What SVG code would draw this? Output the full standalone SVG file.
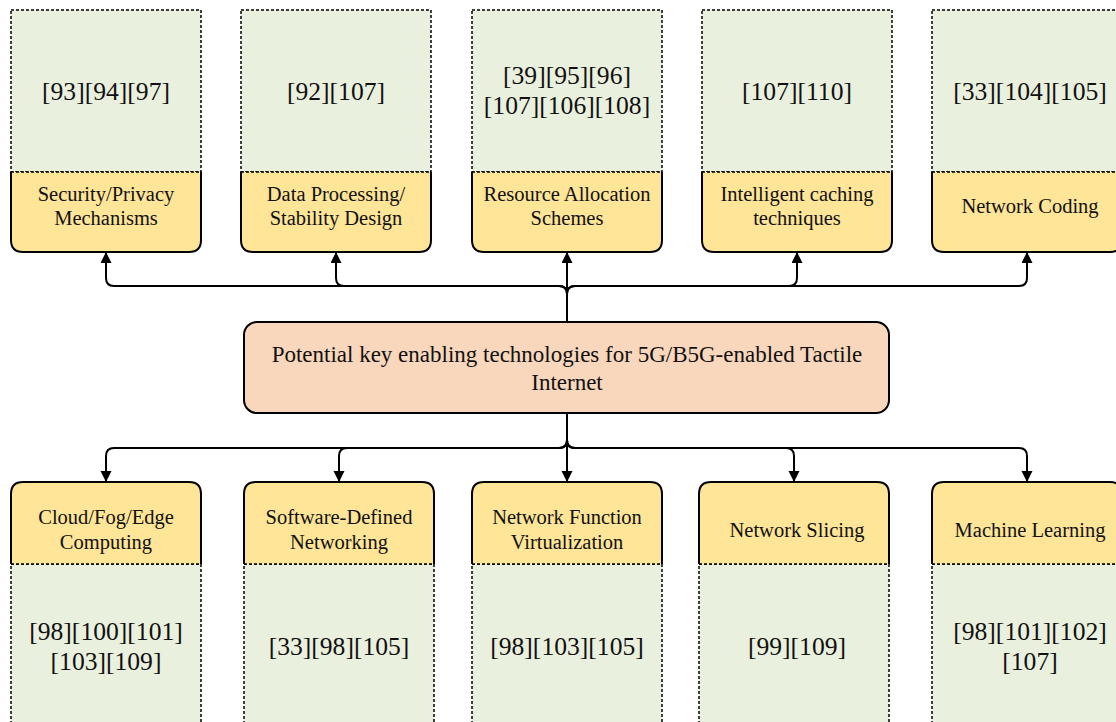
<svg xmlns="http://www.w3.org/2000/svg" width="1116" height="722" viewBox="0 0 1116 722">
  <style>
    .ref { fill: #EAF0DE; stroke: #000; stroke-width: 1.5; stroke-dasharray: 3 2; }
    .div { fill: none; stroke: #000; stroke-width: 1.5; stroke-dasharray: 3 2; }
    .lab { fill: #FFE597; stroke: none; }
    .edge { fill: none; stroke: #000; stroke-width: 2; }
    .hub { fill: #F9D7BC; stroke: #000; stroke-width: 2; }
    .conn { fill: none; stroke: #000; stroke-width: 2; marker-end: url(#arrow); }
    text { font-family: "Liberation Serif", "Times New Roman", serif; fill: #111; text-anchor: middle; }
    .t18 { font-size: 20.5px; }
    .t24 { font-size: 25.6px; }
    .t20 { font-size: 23px; }
  </style>
  <defs>
    <marker id="arrow" markerUnits="userSpaceOnUse" markerWidth="12" markerHeight="12" refX="11" refY="5.5" orient="auto">
      <path d="M0,0 L11,5.5 L0,11 Z" fill="#000"/>
    </marker>
  </defs>

  <rect width="1116" height="722" fill="#fff"/>

  <!-- connectors -->
  <g id="connectors">
    <path class="conn" d="M567 322 V294 Q567 286 559 286 H114 Q106 286 106 278 V252"/>
    <path class="conn" d="M567 322 V294 Q567 286 559 286 H344 Q336 286 336 278 V252"/>
    <path class="conn" d="M567 322 V252"/>
    <path class="conn" d="M567 322 V294 Q567 286 575 286 H789 Q797 286 797 278 V252"/>
    <path class="conn" d="M567 322 V294 Q567 286 575 286 H1019 Q1027 286 1027 278 V252"/>

    <path class="conn" d="M567 413 V440 Q567 448 559 448 H114 Q106 448 106 456 V482"/>
    <path class="conn" d="M567 413 V440 Q567 448 559 448 H347 Q339 448 339 456 V482"/>
    <path class="conn" d="M567 413 V482"/>
    <path class="conn" d="M567 413 V440 Q567 448 575 448 H786 Q794 448 794 456 V482"/>
    <path class="conn" d="M567 413 V440 Q567 448 575 448 H1019 Q1027 448 1027 456 V482"/>
  </g>

  <!-- central hub -->
  <g id="hub">
    <rect class="hub" x="244" y="322" width="645" height="91" rx="13"/>
    <text class="t20" x="567" y="362">Potential key enabling technologies for 5G/B5G-enabled Tactile</text>
    <text class="t20" x="567" y="390">Internet</text>
  </g>

  <!-- top row -->
  <g id="security">
    <rect class="ref" x="11" y="10" width="190" height="162"/>
    <path class="lab" d="M11 172 H201 V240 Q201 252 189 252 H23 Q11 252 11 240 Z"/>
    <path class="edge" d="M201 172 V240 Q201 252 189 252 H23 Q11 252 11 240 V172"/>
    <line class="div" x1="11" y1="172" x2="201" y2="172"/>
    <text class="t24" x="106" y="100">[93][94][97]</text>
    <text class="t18" x="106" y="201">Security/Privacy</text>
    <text class="t18" x="106" y="225">Mechanisms</text>
  </g>

  <g id="data-processing">
    <rect class="ref" x="241" y="10" width="190" height="162"/>
    <path class="lab" d="M241 172 H431 V240 Q431 252 419 252 H253 Q241 252 241 240 Z"/>
    <path class="edge" d="M431 172 V240 Q431 252 419 252 H253 Q241 252 241 240 V172"/>
    <line class="div" x1="241" y1="172" x2="431" y2="172"/>
    <text class="t24" x="336" y="100">[92][107]</text>
    <text class="t18" x="336" y="201">Data Processing/</text>
    <text class="t18" x="336" y="225">Stability Design</text>
  </g>

  <g id="resource-allocation">
    <rect class="ref" x="472" y="10" width="190" height="162"/>
    <path class="lab" d="M472 172 H662 V240 Q662 252 650 252 H484 Q472 252 472 240 Z"/>
    <path class="edge" d="M662 172 V240 Q662 252 650 252 H484 Q472 252 472 240 V172"/>
    <line class="div" x1="472" y1="172" x2="662" y2="172"/>
    <text class="t24" x="567" y="84">[39][95][96]</text>
    <text class="t24" x="567" y="114">[107][106][108]</text>
    <text class="t18" x="567" y="201">Resource Allocation</text>
    <text class="t18" x="567" y="225">Schemes</text>
  </g>

  <g id="caching">
    <rect class="ref" x="702" y="10" width="190" height="162"/>
    <path class="lab" d="M702 172 H892 V240 Q892 252 880 252 H714 Q702 252 702 240 Z"/>
    <path class="edge" d="M892 172 V240 Q892 252 880 252 H714 Q702 252 702 240 V172"/>
    <line class="div" x1="702" y1="172" x2="892" y2="172"/>
    <text class="t24" x="797" y="100">[107][110]</text>
    <text class="t18" x="797" y="201">Intelligent caching</text>
    <text class="t18" x="797" y="225">techniques</text>
  </g>

  <g id="network-coding">
    <rect class="ref" x="932" y="10" width="190" height="162"/>
    <path class="lab" d="M932 172 H1122 V240 Q1122 252 1110 252 H944 Q932 252 932 240 Z"/>
    <path class="edge" d="M1122 172 V240 Q1122 252 1110 252 H944 Q932 252 932 240 V172"/>
    <line class="div" x1="932" y1="172" x2="1122" y2="172"/>
    <text class="t24" x="1030" y="100">[33][104][105]</text>
    <text class="t18" x="1030" y="213">Network Coding</text>
  </g>

  <!-- bottom row -->
  <g id="cloud-fog-edge">
    <rect class="ref" x="11" y="564" width="190" height="170"/>
    <path class="lab" d="M11 564 V494 Q11 482 23 482 H189 Q201 482 201 494 V564 Z"/>
    <path class="edge" d="M11 564 V494 Q11 482 23 482 H189 Q201 482 201 494 V564"/>
    <line class="div" x1="11" y1="564" x2="201" y2="564"/>
    <text class="t18" x="106" y="524">Cloud/Fog/Edge</text>
    <text class="t18" x="106" y="549">Computing</text>
    <text class="t24" x="106" y="640">[98][100][101]</text>
    <text class="t24" x="106" y="670">[103][109]</text>
  </g>

  <g id="sdn">
    <rect class="ref" x="244" y="564" width="190" height="170"/>
    <path class="lab" d="M244 564 V494 Q244 482 256 482 H422 Q434 482 434 494 V564 Z"/>
    <path class="edge" d="M244 564 V494 Q244 482 256 482 H422 Q434 482 434 494 V564"/>
    <line class="div" x1="244" y1="564" x2="434" y2="564"/>
    <text class="t18" x="339" y="524">Software-Defined</text>
    <text class="t18" x="339" y="549">Networking</text>
    <text class="t24" x="339" y="655">[33][98][105]</text>
  </g>

  <g id="nfv">
    <rect class="ref" x="472" y="564" width="190" height="170"/>
    <path class="lab" d="M472 564 V494 Q472 482 484 482 H650 Q662 482 662 494 V564 Z"/>
    <path class="edge" d="M472 564 V494 Q472 482 484 482 H650 Q662 482 662 494 V564"/>
    <line class="div" x1="472" y1="564" x2="662" y2="564"/>
    <text class="t18" x="567" y="524">Network Function</text>
    <text class="t18" x="567" y="549">Virtualization</text>
    <text class="t24" x="567" y="655">[98][103][105]</text>
  </g>

  <g id="slicing">
    <rect class="ref" x="699" y="564" width="190" height="170"/>
    <path class="lab" d="M699 564 V494 Q699 482 711 482 H877 Q889 482 889 494 V564 Z"/>
    <path class="edge" d="M699 564 V494 Q699 482 711 482 H877 Q889 482 889 494 V564"/>
    <line class="div" x1="699" y1="564" x2="889" y2="564"/>
    <text class="t18" x="797" y="537">Network Slicing</text>
    <text class="t24" x="797" y="655">[99][109]</text>
  </g>

  <g id="machine-learning">
    <rect class="ref" x="932" y="564" width="190" height="170"/>
    <path class="lab" d="M932 564 V494 Q932 482 944 482 H1110 Q1122 482 1122 494 V564 Z"/>
    <path class="edge" d="M932 564 V494 Q932 482 944 482 H1110 Q1122 482 1122 494 V564"/>
    <line class="div" x1="932" y1="564" x2="1122" y2="564"/>
    <text class="t18" x="1030" y="537">Machine Learning</text>
    <text class="t24" x="1030" y="640">[98][101][102]</text>
    <text class="t24" x="1030" y="670">[107]</text>
  </g>
</svg>
